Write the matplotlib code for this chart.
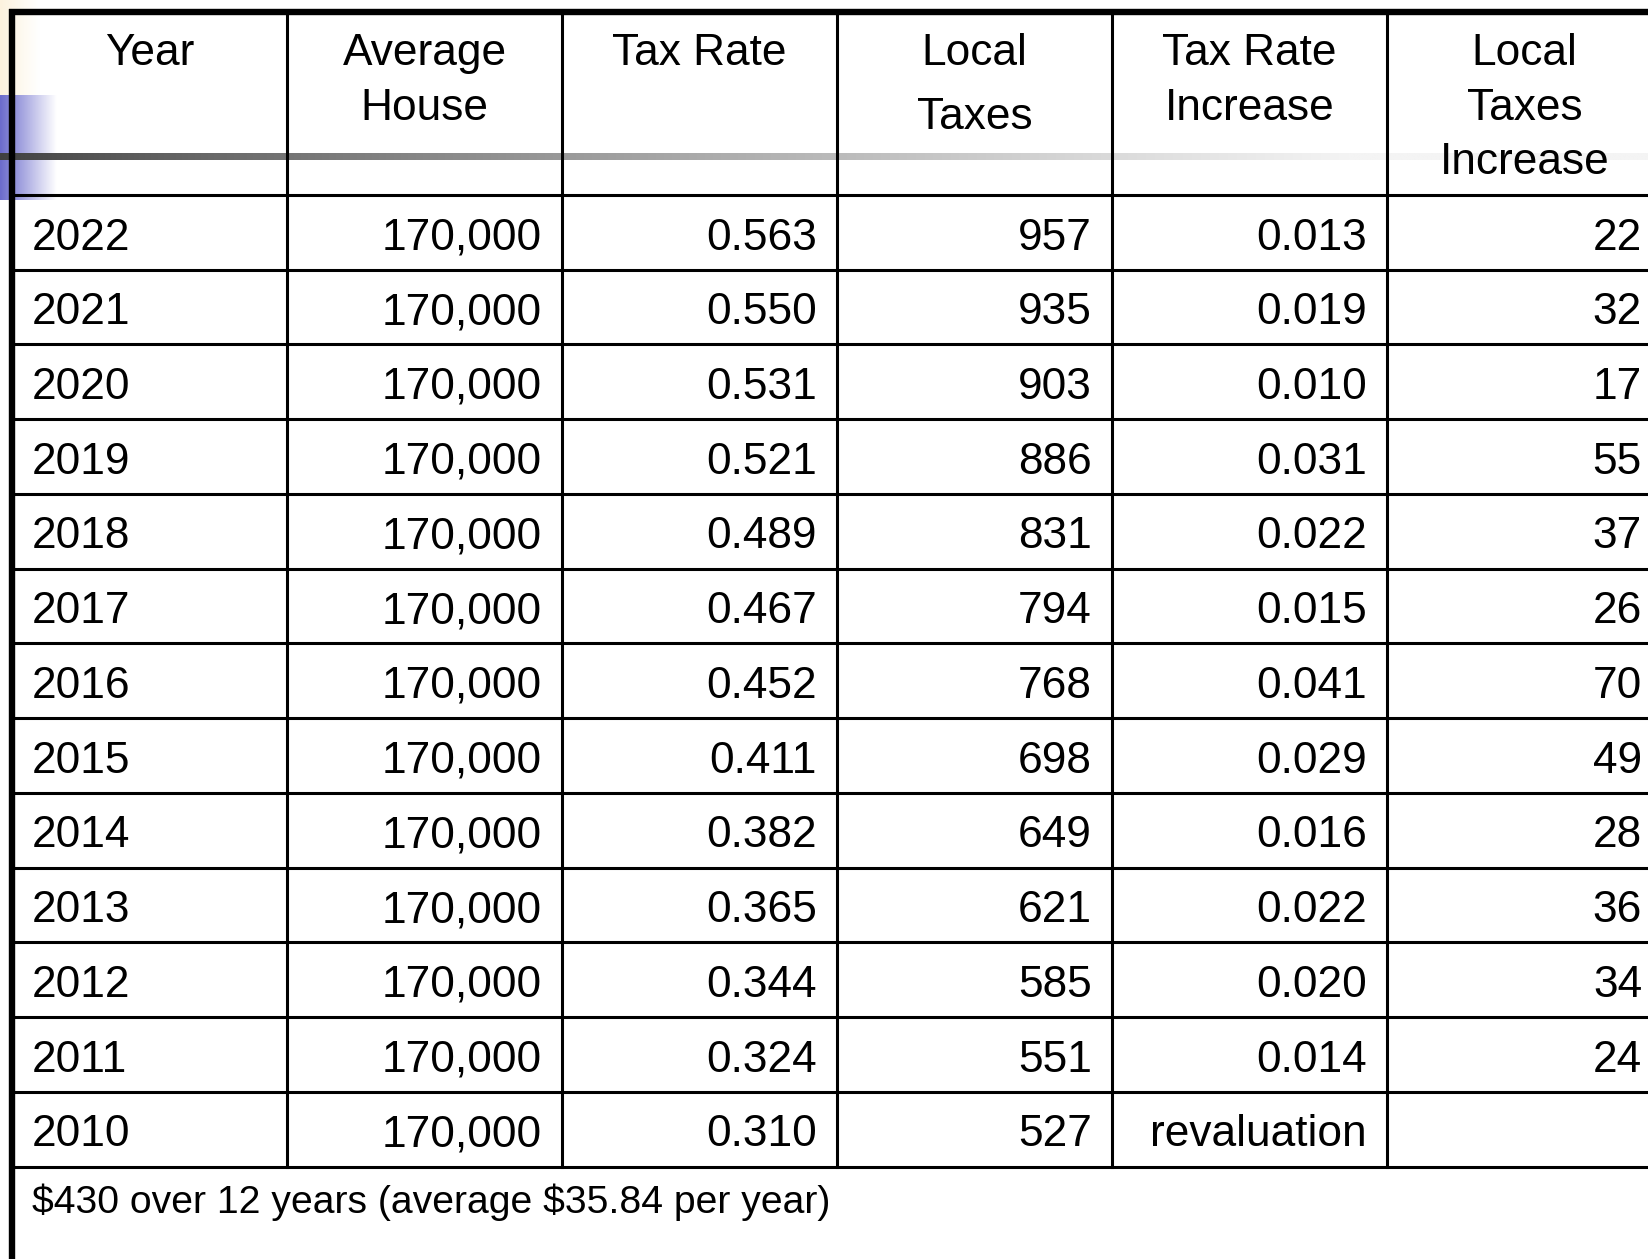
import numpy as np
import matplotlib.pyplot as plt

plt.rcParams['font.family'] = ['Liberation Sans', 'DejaVu Sans']

# table data
headers = [["Year"], ["Average", "House"], ["Tax Rate"], ["Local", "Taxes"],
           ["Tax Rate", "Increase"], ["Local", "Taxes", "Increase"]]
years = [2022, 2021, 2020, 2019, 2018, 2017, 2016, 2015, 2014, 2013, 2012, 2011, 2010]
avg_house = [170000] * 13
tax_rate = [0.563, 0.550, 0.531, 0.521, 0.489, 0.467, 0.452, 0.411, 0.382, 0.365, 0.344, 0.324, 0.310]
local_taxes = [957, 935, 903, 886, 831, 794, 768, 698, 649, 621, 585, 551, 527]
rate_increase = [0.013, 0.019, 0.010, 0.031, 0.022, 0.015, 0.041, 0.029, 0.016, 0.022, 0.020, 0.014, None]
taxes_increase = [22, 32, 17, 55, 37, 26, 70, 49, 28, 36, 34, 24, None]
footer = r"\$430 over 12 years (average \$35.84 per year)"

W, H = 1648, 1259
fig = plt.figure(figsize=(W / 100, H / 100), dpi=100)
ax = fig.add_axes([0, 0, 1, 1])
ax.set_xlim(0, W)
ax.set_ylim(H, 0)
ax.axis('off')

# layout (pixels)
left = 12
col_w = 275
top = 12
head_bot = 195
row_h = 74.74
n_rows = len(years)
table_bot = head_bot + n_rows * row_h
col_x = [left + i * col_w for i in range(7)]
fs = 31.9

# slide decoration: cream + blue squares, gray gradient bar
cream = np.ones((1, 50, 3))
t = np.linspace(0, 1, 50)
for k, c in enumerate([0.99, 0.95, 0.87]):
    cream[0, :, k] = c + (1 - c) * t
ax.imshow(cream, extent=(0, 40, 95, 0), aspect='auto', interpolation='bilinear', zorder=0)

blue = np.ones((1, 60, 3))
t = np.linspace(0, 1, 60)
for k, c in enumerate([0.42, 0.42, 0.80]):
    blue[0, :, k] = c + (1 - c) * t
ax.imshow(blue, extent=(0, 57, 200, 95), aspect='auto', interpolation='bilinear', zorder=0)

gx = np.linspace(0, 1, 400)
gv = (64 + 180 * np.minimum(1, gx * W / 1350) ** 0.8) / 255
gray = np.repeat(gv[None, :, None], 3, axis=2)
ax.imshow(gray, extent=(0, W, 160, 153), aspect='auto', interpolation='bilinear', zorder=1)

ax.set_xlim(0, W)
ax.set_ylim(H, 0)

# grid lines
lw = 2.2
for i in range(n_rows + 1):
    y = head_bot + i * row_h
    ax.plot([left, W], [y, y], color='black', lw=lw, zorder=3)
for x in col_x[1:]:
    ax.plot([x, x], [top, table_bot], color='black', lw=lw, zorder=3)
ax.plot([left - 3, W], [top, top], color='black', lw=4.6, zorder=4, solid_capstyle='butt')
ax.plot([left, left], [top - 3, H], color='black', lw=4.6, zorder=4, solid_capstyle='butt')

# headers
pitch = {3: 64}
for j, lines in enumerate(headers):
    cx = (col_x[j] + col_x[j + 1]) / 2
    p = pitch.get(j, 54.5)
    for i, s in enumerate(lines):
        ax.text(cx, 65 + i * p, s, ha='center', va='baseline', fontsize=fs, zorder=5)

# body
for i in range(n_rows):
    yb = head_bot + i * row_h + 54.5
    cells = [
        str(years[i]),
        f"{avg_house[i]:,}",
        f"{tax_rate[i]:.3f}",
        str(local_taxes[i]),
        "revaluation" if rate_increase[i] is None else f"{rate_increase[i]:.3f}",
        "" if taxes_increase[i] is None else str(taxes_increase[i]),
    ]
    for j, s in enumerate(cells):
        if j == 0:
            ax.text(col_x[0] + 20, yb, s, ha='left', va='baseline', fontsize=fs, zorder=5)
        else:
            ax.text(col_x[j + 1] - 20, yb, s, ha='right', va='baseline', fontsize=fs, zorder=5)

ax.text(col_x[0] + 20, 1213, footer, ha='left', va='baseline', fontsize=28.2, zorder=5)

fig.savefig("out.png", dpi=100)
